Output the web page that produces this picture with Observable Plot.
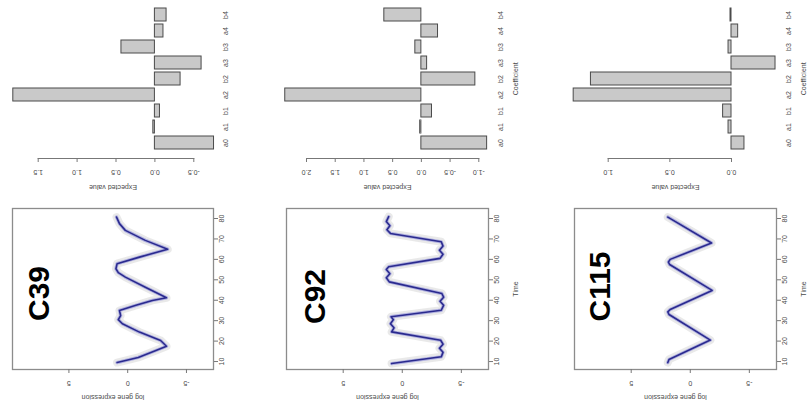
<!DOCTYPE html>
<html>
<head>
<meta charset="utf-8">
<script src="https://cdn.jsdelivr.net/npm/d3@7"></script>
<script src="https://cdn.jsdelivr.net/npm/@observablehq/plot@0.6"></script>
<style>
  html, body { margin: 0; padding: 0; background: #fff; }
  #fig { position: relative; width: 811px; height: 410px; overflow: hidden; background: #fff; }
  #fig svg { position: absolute; }
</style>
</head>
<body>
<div id="fig"></div>
<script>
// Cluster names and Fourier coefficient labels
const clusters = ["C39", "C92", "C115"];
const coefficients = ["a0", "a1", "b1", "a2", "b2", "a3", "b3", "a4", "b4"];

// Expected value of each coefficient, per cluster
const coefC39  = [-0.76, 0.02, -0.065, 1.82, -0.33, -0.60, 0.43, -0.11, -0.15];
const coefC92  = [-1.145, 0.02, -0.185, 2.37, -0.94, -0.10, 0.105, -0.29, 0.645];
const coefC115 = [-0.105, 0.024, 0.068, 1.28, 1.14, -0.357, 0.024, -0.054, 0.008];

// Axis ticks of the coefficient panels
const coefTicksC39  = [1.5, 1.0, 0.5, 0.0, -0.5];
const coefTicksC92  = [2.0, 1.5, 1.0, 0.5, 0.0, -0.5, -1.0];
const coefTicksC115 = [1.0, 0.5, 0.0];

// Mean log gene expression profile over time, per cluster
const timesC39 = [9.5, 12, 15.4, 17.5, 20.3, 24.4, 28.5, 30.5, 32.5, 35, 37.5, 39.9, 41.2, 46.4, 51.3, 53.5, 55.4, 57.9, 61.1, 65, 69.3, 74.2, 77.5, 80.7];
const exprC39  = [0.9, -0.9, -2.4, -3.3, -2.8, -1.0, 0.45, 0.8, 0.6, 0.7, -0.7, -2.1, -3.3, -1.5, 0.2, 0.8, 1.0, 0.9, -1.0, -3.4, -1.5, 0.2, 0.7, 0.95];

const timesC92 = [9, 12.3, 14.5, 16.5, 18.5, 20.4, 24.5, 26.5, 28.5, 30.5, 31.9, 35.1, 37.5, 39.5, 41.5, 43.3, 49, 51, 53, 55, 56.4, 60.5, 62.5, 64.5, 66.5, 68.6, 72.7, 74.5, 76.5, 78.5, 80.9];
const exprC92  = [0.9, -3.3, -3.45, -3.15, -3.45, -3.25, 0.9, 0.7, 1.0, 0.75, 0.95, -3.3, -3.5, -3.2, -3.5, -3.35, 1.1, 1.35, 1.05, 1.35, 1.15, -3.2, -3.45, -3.15, -3.45, -3.3, 1.0, 1.3, 1.05, 1.35, 1.15];

const timesC115 = [9.5, 11, 20.5, 33, 34.3, 35.5, 44.8, 57.5, 58.7, 60, 68, 80.7];
const exprC115  = [1.9, 1.8, -1.7, 1.8, 1.9, 1.7, -1.85, 1.75, 1.85, 1.7, -1.8, 1.9];

const timeTicks = [10, 20, 30, 40, 50, 60, 70, 80];
const exprTicks = [5, 0, -5];

const panels = [
  {name: clusters[0], coef: coefC39,  ticks: coefTicksC39,  times: timesC39,  expr: exprC39},
  {name: clusters[1], coef: coefC92,  ticks: coefTicksC92,  times: timesC92,  expr: exprC92},
  {name: clusters[2], coef: coefC115, ticks: coefTicksC115, times: timesC115, expr: exprC115}
];

// Page geometry of each column (pixels)
const geom = [
  {left: 0,   width: 270, boxL: 12, boxR: 213, barL: 37.7, barR: 193.3, nameDx: 27, nameDy: 4.5,  outer: false},
  {left: 270, width: 270, boxL: 16, boxR: 218, barL: 36,   barR: 208.3, nameDx: 29, nameDy: 7.5,  outer: true},
  {left: 540, width: 271, boxL: 34, boxR: 236, barL: 67.7, barR: 191,   nameDx: 26, nameDy: -2.5, outer: true}
];

const baseStyle = {
  fontFamily: '"Liberation Sans", Arial, Helvetica, sans-serif',
  fontSize: "7px",
  color: "#4a4a4a",
  background: "transparent",
  overflow: "visible"
};

// centred text, whatever the frame anchor
const centred = {textAnchor: "middle", lineAnchor: "middle"};

function linePanel(p, g) {
  const rows = p.times.map((t, i) => ({t, v: p.expr[i]}));
  return Plot.plot({
    width: g.width, height: 210,
    marginTop: 8, marginBottom: 41, marginLeft: g.boxL, marginRight: g.width - g.boxR,
    style: baseStyle,
    x: {domain: [9.8, -7.3], axis: null},
    y: {domain: [6.1, 84.9], axis: null},
    marks: [
      Plot.line(rows, {x: "v", y: "t", stroke: "#9a9a9a", strokeWidth: 8, strokeOpacity: 0.22, strokeLinejoin: "round", strokeLinecap: "round"}),
      Plot.line(rows, {x: "v", y: "t", stroke: "#6d6dd4", strokeWidth: 3.4, strokeOpacity: 0.45, strokeLinejoin: "round"}),
      Plot.line(rows, {x: "v", y: "t", stroke: "#2a2a8e", strokeWidth: 1.6, strokeLinejoin: "round"}),
      Plot.frame({stroke: "#8c8c8c", strokeWidth: 1.3}),
      Plot.axisY({anchor: "right", ticks: timeTicks, tickSize: 4, tickFormat: () => "", label: null, stroke: "#777"}),
      Plot.text(timeTicks, {y: d => d, text: d => String(d), frameAnchor: "right", dx: 8.5, rotate: -90, ...centred}),
      Plot.axisX({anchor: "bottom", ticks: exprTicks, tickSize: 4, tickFormat: () => "", label: null, stroke: "#777"}),
      Plot.text(exprTicks, {x: d => d, text: d => String(d), frameAnchor: "bottom", dy: 13.5, rotate: 180, ...centred}),
      Plot.text(["log gene expression"], {text: d => d, frameAnchor: "bottom", dy: 28, rotate: 180, ...centred}),
      g.outer ? Plot.text(["Time"], {text: d => d, frameAnchor: "right", dx: 27, rotate: -90, ...centred}) : null,
      Plot.text([p.name], {text: d => d, frameAnchor: "left", dx: g.nameDx, dy: g.nameDy, rotate: -90,
        fontSize: 30, fontWeight: "bold", fill: "#000", ...centred})
    ]
  });
}

function barPanel(p, g) {
  const rows = coefficients.map((c, i) => ({c, v: p.coef[i]}));
  const titleDx = (g.boxL + g.boxR) / 2 - (g.barL + g.barR) / 2;
  return Plot.plot({
    width: g.width, height: 200,
    marginTop: 3.7, marginBottom: 42, marginLeft: g.barL, marginRight: g.width - g.barR,
    style: baseStyle,
    x: {domain: [p.ticks[0], p.ticks[p.ticks.length - 1]], axis: null},
    y: {domain: coefficients.slice().reverse(), range: [3.7, 153.1], paddingInner: 0.17, paddingOuter: 0.085, axis: null},
    marks: [
      Plot.barX(rows, {x: "v", y: "c", fill: "#c9c9c9", stroke: "#4a4a4a", strokeWidth: 1}),
      Plot.frame({anchor: "bottom", stroke: "#777"}),
      Plot.axisX({anchor: "bottom", ticks: p.ticks, tickSize: 4, tickFormat: () => "", label: null, stroke: "#777"}),
      Plot.text(p.ticks, {x: d => d, text: d => d.toFixed(1), frameAnchor: "bottom", dy: 14, rotate: 180, ...centred}),
      Plot.text(["Expected value"], {text: d => d, frameAnchor: "bottom", dx: titleDx, dy: 29, rotate: 180, ...centred}),
      Plot.text(coefficients, {y: d => d, text: d => d, frameAnchor: "right", dx: g.boxR + 12 - g.barR, rotate: -90, ...centred}),
      g.outer ? Plot.text(["Coefficient"], {text: d => d, frameAnchor: "right", dx: g.boxR + 27 - g.barR, dy: -2.5, rotate: -90, ...centred}) : null
    ]
  });
}

const fig = document.getElementById("fig");
panels.forEach((p, i) => {
  const g = geom[i];
  const bars = barPanel(p, g);
  bars.style.left = g.left + "px";
  bars.style.top = "0px";
  fig.appendChild(bars);
  const lines = linePanel(p, g);
  lines.style.left = g.left + "px";
  lines.style.top = "200px";
  fig.appendChild(lines);
});
</script>
</body>
</html>
